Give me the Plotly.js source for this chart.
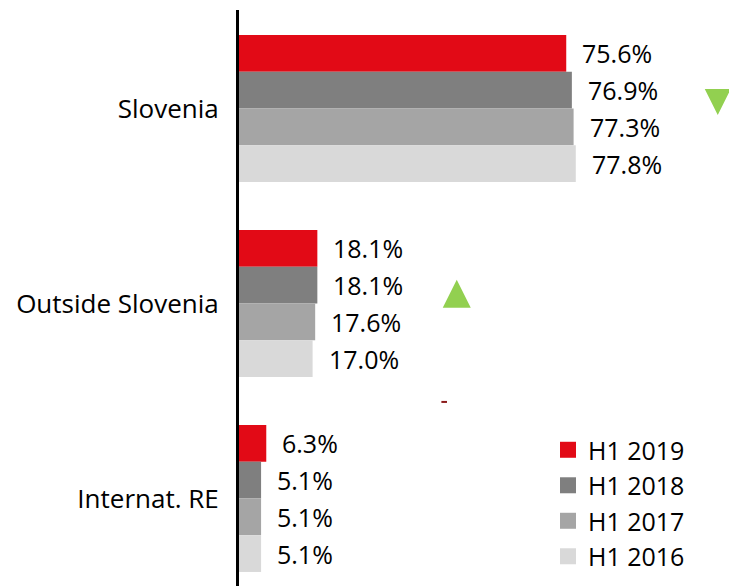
<!DOCTYPE html>
<html>
<head>
<meta charset="utf-8">
<script src="https://cdn.plot.ly/plotly-3.0.1.min.js"></script>
<style>html,body{margin:0;padding:0;background:#fff;}#chart{width:729px;height:586px;}</style>
</head>
<body>
<div id="chart"></div>
<script>
// ---- data ----
const categories = ["Slovenia", "Outside Slovenia", "Internat. RE"];
const seriesNames = ["H1 2019", "H1 2018", "H1 2017", "H1 2016"];
const seriesColors = ["#e20a16", "#7f7f7f", "#a5a5a5", "#d9d9d9"];
const h1_2019 = [75.6, 18.1, 6.3];
const h1_2018 = [76.9, 18.1, 5.1];
const h1_2017 = [77.3, 17.6, 5.1];
const h1_2016 = [77.8, 17.0, 5.1];
// trend indicators (decorative)
const trendX = [110.6, 50.3];
const trendY = [0.033, 0.879];
const trendSymbols = ["arrow-down", "arrow-up"];
const trendSizes = [26, 28];
const markX = [47.4];
const markY = [1.505];

// ---- chart ----
const allSeries = [h1_2019, h1_2018, h1_2017, h1_2016];
const catIdx = categories.map((c, i) => i);
const bargap = 0.246;
const barW = (1 - bargap) / allSeries.length;
const FONT = "Open Sans, sans-serif";

const traces = [];
const annotations = [];
allSeries.forEach((vals, s) => {
  traces.push({
    type: "bar", orientation: "h",
    x: vals, y: catIdx,
    name: seriesNames[s],
    marker: {color: seriesColors[s], line: {width: 0}},
    showlegend: false,
    hoverinfo: "x"
  });
  vals.forEach((v, c) => {
    annotations.push({
      x: v, y: c + (s - (allSeries.length - 1) / 2) * barW,
      xref: "x", yref: "y",
      text: v.toFixed(1) + "%",
      showarrow: false, xanchor: "left", yanchor: "middle",
      xshift: 14,
      font: {family: FONT, size: 25, color: "#000"}
    });
  });
});
// legend-only traces with square markers
seriesNames.forEach((n, s) => {
  traces.push({
    type: "scatter", mode: "markers", x: [null], y: [null],
    name: n, marker: {symbol: "square", size: 16, color: seriesColors[s]},
    showlegend: true, hoverinfo: "skip"
  });
});
traces.push({
  type: "scatter", mode: "markers", x: trendX, y: trendY,
  marker: {symbol: trendSymbols, size: trendSizes, color: "#92d050", opacity: 1, line: {width: 0}},
  showlegend: false, hoverinfo: "skip", cliponaxis: false
});
traces.push({
  type: "scatter", mode: "markers", x: markX, y: markY,
  marker: {symbol: "line-ew", size: 4, opacity: 1, line: {width: 2, color: "#8b1a1a"}},
  showlegend: false, hoverinfo: "skip"
});

const layout = {
  width: 729, height: 586,
  margin: {l: 239, r: 0, t: 10, b: 0, pad: 0},
  paper_bgcolor: "#fff", plot_bgcolor: "#fff",
  barmode: "group", bargap: bargap, bargroupgap: 0,
  showlegend: true,
  legend: {
    x: 0.6306, xanchor: "left", y: 0.276, yanchor: "top",
    font: {family: FONT, size: 25, color: "#000"},
    traceorder: "normal", bgcolor: "rgba(0,0,0,0)", borderwidth: 0,
    tracegroupgap: 0
  },
  xaxis: {
    range: [0, 113.2], showgrid: false, zeroline: false,
    showticklabels: false, ticks: "", showline: false, fixedrange: true
  },
  yaxis: {
    range: [2.449, -0.505], tickvals: catIdx, ticktext: categories,
    showgrid: false, zeroline: false, ticks: "",
    showline: true, linecolor: "#000", linewidth: 3,
    ticklabelstandoff: 12,
    tickfont: {family: FONT, size: 26, color: "#000"}, fixedrange: true
  },
  annotations: annotations,
  font: {family: FONT}
};

Plotly.newPlot("chart", traces, layout, {displayModeBar: false, staticPlot: true});
</script>
</body>
</html>
